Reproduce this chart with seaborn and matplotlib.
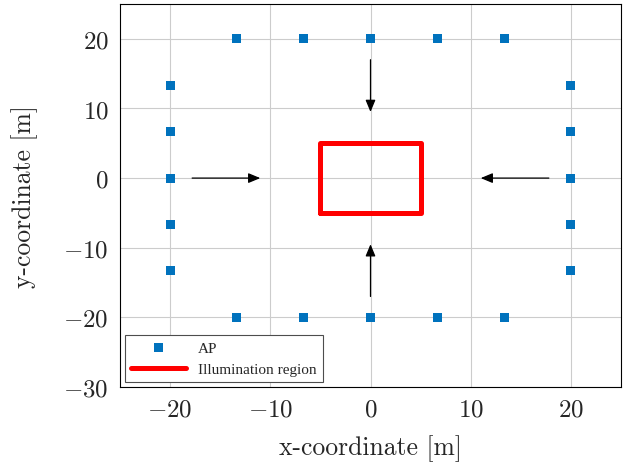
import numpy as np
import pandas as pd
import seaborn as sns
import matplotlib.pyplot as plt

# AP positions (square around the room)
ap_x = [-13.33, -6.67, 0, 6.67, 13.33,
        -13.33, -6.67, 0, 6.67, 13.33,
        -20, -20, -20, -20, -20,
        20, 20, 20, 20, 20]
ap_y = [20, 20, 20, 20, 20,
        -20, -20, -20, -20, -20,
        13.33, 6.67, 0, -6.67, -13.33,
        13.33, 6.67, 0, -6.67, -13.33]

# illumination region outline
region_x = [-5, 5, 5, -5, -5]
region_y = [-5, -5, 5, 5, -5]

# arrows (start -> end)
arrow_x0 = [-17.8, 17.8, 0, 0]
arrow_y0 = [0, 0, 17, -17]
arrow_x1 = [-11, 11, 0, 0]
arrow_y1 = [0, 0, 9.5, -9.5]

sns.set_style('whitegrid')
plt.rcParams['font.family'] = 'serif'
plt.rcParams['font.serif'] = ['cmr10']
plt.rcParams['mathtext.fontset'] = 'cm'
plt.rcParams['axes.formatter.use_mathtext'] = True

df_ap = pd.DataFrame({'x': ap_x, 'y': ap_y})

fig = plt.figure(figsize=(6.35, 4.64), dpi=100)
ax = fig.add_axes([120 / 635, 1 - 388 / 464, 501 / 635, 383 / 464])

sns.scatterplot(data=df_ap, x='x', y='y', marker='s', s=42, color='#0072BD',
                edgecolor='none', label='AP', ax=ax, zorder=3)
ax.plot(region_x, region_y, color='#FF0000', lw=3.6, label='Illumination region', zorder=3)

for x0, y0, x1, y1 in zip(arrow_x0, arrow_y0, arrow_x1, arrow_y1):
    ax.annotate('', xy=(x1, y1), xytext=(x0, y0),
                arrowprops=dict(arrowstyle='-|>,head_length=0.6,head_width=0.25',
                                color='black', lw=0.9,
                                mutation_scale=12, shrinkA=0, shrinkB=0))

ax.set_xlim(-25, 25)
ax.set_ylim(-30, 25)
ax.set_xticks([-20, -10, 0, 10, 20])
ax.set_yticks([-30, -20, -10, 0, 10, 20])
ax.tick_params(labelsize=18, direction='in', length=3, color='0.5', pad=8)
ax.grid(True, color='0.8', lw=0.8)
for s in ax.spines.values():
    s.set_edgecolor('black')
    s.set_linewidth(0.8)

ax.set_xlabel('x-coordinate [m]', fontsize=18.5, labelpad=10)
ax.set_ylabel('y-coordinate [m]', fontsize=18.5, labelpad=18)

leg = ax.legend(loc='lower left', fancybox=False, framealpha=1, edgecolor='0.3',
                prop={'family': 'Liberation Serif', 'size': 11}, borderaxespad=0.3,
                handlelength=3.6, borderpad=0.4)
leg.get_frame().set_linewidth(0.8)

plt.savefig('out.png', dpi=100)
